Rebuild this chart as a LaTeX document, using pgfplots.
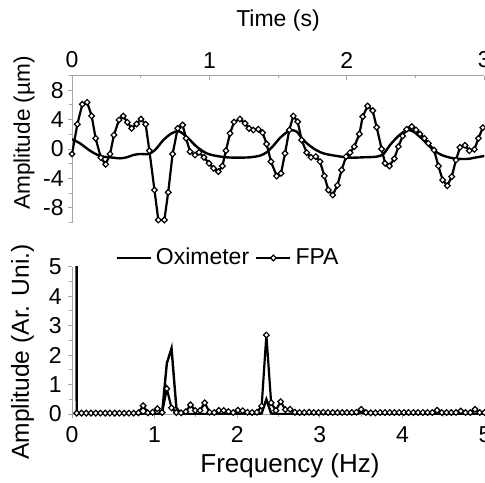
\documentclass[border=0pt]{standalone}
\usepackage{fontspec}
\setmainfont{Liberation Sans}
\usepackage{pgfplots}
\pgfplotsset{compat=1.18}
\usepackage{pgfplotstable}

% FPA displacement, time domain
\pgfplotstableread{
t v
0.000 -0.68
0.039 3.36
0.075 6.08
0.110 6.35
0.143 4.50
0.172 1.45
0.210 -1.18
0.245 -2.09
0.277 -0.68
0.305 1.90
0.342 3.95
0.373 4.49
0.403 3.63
0.434 2.81
0.470 3.40
0.502 4.08
0.536 3.36
0.563 -0.23
0.600 -5.58
0.628 -9.66
0.672 -9.66
0.700 -5.90
0.732 -0.68
0.769 2.81
0.805 3.27
0.830 1.45
0.859 -0.36
0.895 -0.82
0.924 -0.45
0.960 -1.13
0.997 -1.95
1.030 -2.63
1.065 -3.08
1.094 -2.31
1.120 -0.23
1.150 2.13
1.179 3.67
1.222 4.08
1.259 3.49
1.288 2.81
1.319 2.58
1.356 2.68
1.387 2.22
1.416 0.68
1.448 -1.72
1.489 -3.67
1.521 -3.31
1.550 -0.59
1.581 2.59
1.610 4.49
1.642 3.72
1.671 1.22
1.708 -0.50
1.739 -1.13
1.774 -1.04
1.805 -1.72
1.836 -3.67
1.865 -5.58
1.897 -6.26
1.931 -4.94
1.962 -2.86
1.994 -1.04
2.023 -0.50
2.054 0.32
2.091 2.04
2.115 4.40
2.151 5.85
2.188 5.22
2.217 2.95
2.253 0.00
2.278 -1.95
2.309 -2.31
2.345 -1.32
2.375 0.32
2.406 1.77
2.435 2.68
2.472 3.04
2.503 2.59
2.532 2.04
2.564 1.45
2.593 0.77
2.634 -0.14
2.666 -2.31
2.697 -4.22
2.731 -4.99
2.763 -3.76
2.794 -1.50
2.823 0.23
2.860 0.50
2.891 -0.23
2.928 -0.05
2.957 1.45
2.989 2.90
}\fpatime

% oximeter, time domain
\pgfplotstableread{
t v
0.000 1.32
0.058 0.77
0.131 -0.23
0.204 -0.95
0.277 -1.13
0.349 -1.27
0.398 -1.13
0.446 -0.82
0.495 -0.68
0.555 -0.68
0.604 -0.14
0.665 1.22
0.725 2.13
0.780 2.40
0.846 1.45
0.907 0.32
0.980 -0.59
1.053 -0.95
1.125 -1.13
1.198 -1.18
1.295 -1.13
1.368 -0.90
1.416 -0.45
1.465 0.45
1.513 1.50
1.550 2.10
1.590 2.55
1.635 2.36
1.683 1.22
1.756 0.09
1.829 -0.59
1.926 -0.95
2.023 -1.18
2.120 -1.13
2.217 -1.04
2.266 -0.68
2.314 0.54
2.375 1.77
2.435 2.55
2.484 2.36
2.557 1.22
2.630 -0.14
2.690 -0.82
2.775 -1.27
2.872 -1.36
2.945 -1.13
3.000 -0.95
}\oxitime

% spectra
\pgfplotstableread{
f oxi fpa
0.000 200 nan
0.057 0 0.03
0.115 0 0.03
0.172 0 0.03
0.230 0 0.03
0.287 0 0.03
0.344 0 0.03
0.402 0 0.03
0.459 0 0.03
0.517 0 0.03
0.574 0 0.03
0.631 0 0.03
0.689 0 0.03
0.746 0 0.03
0.804 0 0.04
0.861 0 0.28
0.918 0 0.04
0.976 0 0.06
1.033 0 0.18
1.091 0.03 0.05
1.148 1.72 0.86
1.205 2.23 0.21
1.263 0.22 0.05
1.320 0 0.04
1.378 0 0.08
1.435 0 0.31
1.492 0 0.12
1.550 0 0.12
1.607 0 0.38
1.665 0 0.06
1.722 0 0.05
1.779 0 0.12
1.837 0 0.12
1.894 0 0.08
1.952 0 0.05
2.009 0 0.13
2.066 0 0.11
2.124 0 0.06
2.181 0 0.05
2.239 0 0.06
2.296 0.02 0.27
2.353 0.50 2.68
2.411 0.02 0.38
2.468 0 0.12
2.526 0 0.42
2.583 0 0.15
2.640 0 0.16
2.698 0 0.06
2.755 0 0.05
2.813 0 0.05
2.870 0 0.06
2.927 0 0.05
2.985 0 0.05
3.042 0 0.06
3.100 0 0.05
3.157 0 0.05
3.214 0 0.05
3.272 0 0.05
3.329 0 0.05
3.387 0 0.05
3.444 0 0.06
3.501 0.05 0.16
3.559 0 0.05
3.616 0 0.04
3.674 0 0.04
3.731 0 0.05
3.788 0 0.05
3.846 0 0.05
3.903 0 0.05
3.961 0 0.05
4.018 0 0.05
4.075 0 0.05
4.133 0 0.05
4.190 0 0.05
4.248 0 0.05
4.305 0 0.05
4.362 0 0.05
4.420 0 0.13
4.477 0 0.05
4.535 0 0.05
4.592 0 0.05
4.649 0 0.05
4.707 0 0.10
4.764 0 0.05
4.822 0 0.05
4.879 0 0.16
4.936 0 0.05
4.994 0 0.05
}\spectra

\newcommand\tickfont{\fontsize{11.5}{13}\selectfont}

\pgfplotsset{
  panel/.style={
    scale only axis,
    axis line style={gray!70, -},
    tick style={gray!70, line width=0.5pt},
    major tick length=2pt, minor tick length=1.3pt,
    tick label style={font=\tickfont},
    /pgf/number format/assume math mode=true,
  },
  oxi/.style={black, line width=1.2pt, no marks},
  fpa/.style={black, line width=1.1pt, mark=square*, mark size=1.0pt,
    mark options={rotate=45, fill=white, solid, line width=0.6pt}},
}

\begin{document}
\begin{tikzpicture}
\useasboundingbox (0pt,0pt) rectangle (242.5pt,-241pt);

\begin{axis}[panel,
  at={(36pt,-37.75pt)}, anchor=north west,
  width=206.15pt, height=73.5pt,
  xmin=0, xmax=3, ymin=-10, ymax=10,
  axis x line*=top, axis y line*=left,
  xtick={0,1,2,3}, minor xtick={0.5,1.5,2.5},
  ytick={-8,-4,0,4,8}, minor ytick={-10,-6,-2,2,6,10},
  xtick align=inside, ytick align=outside,
  xticklabel style={inner sep=1pt, yshift=2.5pt},
  yticklabel style={inner sep=1pt, xshift=-1pt},
]
\addplot[oxi, smooth] table[x=t, y=v] {\oxitime};
\addplot[fpa] table[x=t, y=v] {\fpatime};
\end{axis}

\begin{axis}[panel,
  at={(36pt,-133.35pt)}, anchor=north west,
  width=206.5pt, height=73.65pt,
  xmin=0, xmax=5, ymin=0, ymax=5,
  axis x line*=bottom, axis y line*=left,
  xtick={0,1,2,3,4,5}, minor xtick={0.5,1.5,2.5,3.5,4.5},
  ytick={0,1,2,3,4,5}, minor ytick={0.5,1.5,2.5,3.5,4.5},
  tick align=outside,
  xticklabel style={inner sep=1pt, yshift=-3pt},
  yticklabel style={inner sep=1pt, xshift=-2pt},
  legend columns=2,
  legend style={at={(0.38,1.059)}, anchor=center, draw=none, fill=none,
    font=\tickfont, inner sep=0pt,
    /tikz/every even column/.append style={column sep=1pt}},
]
\addplot[oxi] table[x=f, y=oxi] {\spectra};
\addlegendentry{Oximeter}
\addplot[fpa] table[x=f, y=fpa] {\spectra};
\addlegendentry{FPA}
\end{axis}

\node[font=\fontsize{11.5}{13}\selectfont] at (139pt,-10.5pt) {Time (s)};
\node[font=\fontsize{11.3}{13}\selectfont, rotate=90] at (12pt,-66.5pt) {Amplitude (µm)};
\node[font=\fontsize{12.3}{14}\selectfont, rotate=90] at (11.25pt,-176pt) {Amplitude (Ar. Uni.)};
\node[font=\fontsize{13}{15}\selectfont] at (145pt,-233pt) {Frequency (Hz)};
\end{tikzpicture}
\end{document}
